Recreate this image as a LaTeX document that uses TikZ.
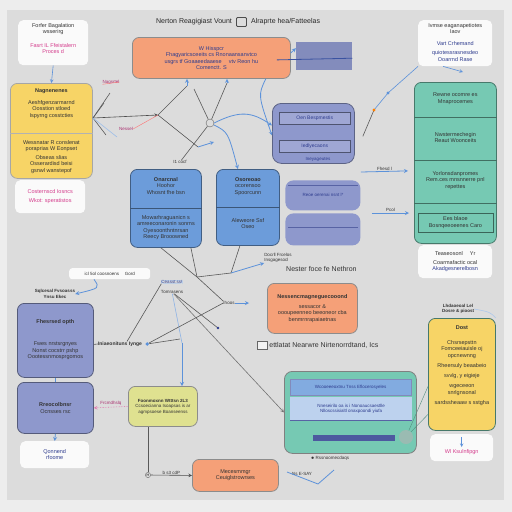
\documentclass[tikz,border=0pt]{standalone}
\usepackage{fontspec}
\setmainfont{Liberation Sans}
\usepackage{tikz}
\usetikzlibrary{shapes,arrows}
\usetikzlibrary{positioning}

\definecolor{outergray}{HTML}{EDEDED}
\definecolor{panelgray}{HTML}{DCDCDC}
\definecolor{boxyellow}{HTML}{F7D466}
\definecolor{boxorange}{HTML}{F5A078}
\definecolor{boxblue}{HTML}{6C9CDA}
\definecolor{boxpurple}{HTML}{8E98CC}
\definecolor{boxteal}{HTML}{76C9B3}
\definecolor{boxlime}{HTML}{DFE190}
\definecolor{linkblue}{HTML}{5C92DA}
\definecolor{inkpink}{HTML}{D43C8C}
\definecolor{inknavy}{HTML}{2E3C8E}

\tikzstyle{arrow} = [semithick,->,>=stealth]
\tikzstyle{bluearrow} = [thick,->,>=stealth,linkblue]
\tikzstyle{wire} = [semithick, black!65]
\tikzstyle{card} = [rectangle, rounded corners=7pt, anchor=north west, inner sep=0pt, line width=0.8pt]
\tikzstyle{note} = [rectangle, rounded corners=5pt, anchor=north west, inner sep=0pt, fill=white!96!gray]
\tikzstyle{bar} = [rectangle, anchor=north west, inner sep=0pt, draw=boxpurple!55!black,
    fill=boxpurple!85!white, font=\fontsize{5}{6}\selectfont, text=inknavy]
\tikzstyle{txt} = [inner sep=0pt, align=center, font=\fontsize{5.5}{6.5}\selectfont, text=black!80]
\tikzstyle{fine} = [inner sep=0pt, align=center, font=\fontsize{4.5}{5.5}\selectfont, text=black!80]
\tikzstyle{head} = [inner sep=0pt, font=\fontsize{7}{8}\selectfont, text=black!85]

\begin{document}
\begin{tikzpicture}[x=1pt, y=-1pt]
\useasboundingbox (0,0) rectangle (512,512);
\fill[outergray] (0,0) rectangle (512,512);
\fill[panelgray] (7,10) rectangle (504,500);

% title row
\node (title) [head] at (194,22) {Nerton Reagigiast Vount};
\node (titleicon) [draw=black!70, thick, rounded corners=1pt, minimum width=10, minimum height=9,
    inner sep=0pt, right=4pt of title] {};
\node (title2) [head, right=4pt of titleicon] {Alraprte hea/Fatteelas};

% left column
\node (factsheet) [note, minimum width=70, minimum height=45] at (18,20) {};
\node (factsheettxt) [txt, below=3pt of factsheet.north] {Forfer Bagalation\\ wsserirg\\[7pt]
    \textcolor{inkpink}{Fasrt IL Ffeistalern}\\ \textcolor{inkpink}{Proces d}};

\node (intake) [card, fill=boxyellow, draw=black!35, minimum width=82, minimum height=95] at (10,83) {};
\draw [black!30] ([yshift=-50pt]intake.north west) -- ([yshift=-50pt]intake.north east);
\node (intaketop) [txt, below=6pt of intake.north] {\textbf{Nagnenenes}\\[5pt] Aeshfgenzarmarnd\\
    Oosstion stloed\\ Ispyrng cosstcties};
\node (intakebot) [txt, below=57pt of intake.north] {Wessnatar R conslenat\\ poraprias W Eonpset\\[2pt]
    Obseas slias\\ Osserardisd beisi\\ gsnwl wanstepof};

\node (costnote) [note, minimum width=70, minimum height=33] at (15,180) {};
\node (costnotetxt) [txt, text=inkpink] at (costnote.center) {Costernscd Iosncs\\[3pt] Wkot: speratistos};

\draw [bluearrow, semithick] (factsheet.south) -- (intake.north);

% top centre
\node (scope) [card, fill=boxorange, draw=black!45, minimum width=158, minimum height=41] at (132,37) {};
\node (scopetxt) [txt, text=inknavy] at (scope.center) {W Hisspcr\\ Fhagyaricsceeits cs Rnonaansanvtco\\
    usgrs tf Goaaeedaaese \quad vtv Reon hu\\ Comenctt. S};
\node (slate) [rectangle, fill=boxpurple!92!black, minimum width=56, minimum height=28, inner sep=0pt,
    anchor=north west] at (296,42) {};
\draw [bluearrow] ([yshift=5pt]scope.east) -- ([yshift=8pt]slate.west);
\draw [inknavy!75!linkblue, thick] ([xshift=-14pt, yshift=-2pt]scope.east) -- ([yshift=-2pt]slate.east);

% top right
\node (legend) [note, minimum width=74, minimum height=46] at (418,20) {};
\node (legendtxt) [txt, below=3pt of legend.north] {Ivmse eaganapetiotes\\ Iaov\\[5pt]
    \textcolor{inknavy}{Vart Crhemand}\\[3pt] \textcolor{inknavy}{quiotessrasnesdeo}\\ \textcolor{inknavy}{Ooarrnd Rase}};

\node (stages) [card, fill=boxteal, draw=boxteal!60!black, minimum width=82, minimum height=161] at (414,82) {};
\foreach \cut in {35,78,121}
    \draw [boxteal!55!black] ([yshift=-\cut pt]stages.north west) -- ([yshift=-\cut pt]stages.north east);
\node (stagesA) [txt, below=11pt of stages.north] {Rewne ocomre es\\ Mnaprocemes};
\node (stagesB) [txt, below=50pt of stages.north] {Nwstermechegin\\ Reaut Woonceits};
\node (stagesC) [txt, below=89pt of stages.north] {Yorlonsdanpromes\\ Rem.ces mnsnnerre pnl\\ repettes};
\node (stagessub) [rectangle, draw=boxteal!50!black, minimum width=75, minimum height=19, anchor=north]
    at ([yshift=-131pt]stages.north) {};
\node (stagessubtxt) [txt] at (stagessub.center) {Ees blaoe\\ Bosnqeeoeenes Caro};

\node (summary) [note, minimum width=74, minimum height=33] at (418,245) {};
\node (summarytxt) [txt] at (summary.center) {Teaseosonl \quad Yr\\[2pt] Coarmafactic ocal\\
    \textcolor{inknavy}{Akadgesnerelbosn}};

% middle stacks
\node (queue) [card, fill=boxpurple, draw=boxpurple!65!black, rounded corners=9pt, minimum width=82,
    minimum height=60] at (272,103) {};
\node (queuebarA) [bar, minimum width=71, minimum height=12] at (279,112) {Oen Bespmestis};
\node (queuebarB) [bar, minimum width=71, minimum height=12] at (279,140) {Iedlyecaons};
\node (queuefoot) [fine, text=inknavy] at (318,159) {Ineyageutes};

\node (stackA) [card, fill=boxpurple, rounded corners=8pt, minimum width=75, minimum height=30] at (285,180) {};
\draw [inknavy!80, thick] ([xshift=3pt, yshift=-5pt]stackA.north west) -- ([xshift=-3pt, yshift=-5pt]stackA.north east);
\node (stackAtxt) [fine, text=inknavy] at ([yshift=-15pt]stackA.north) {Reoe oerenai nsnt l*};
\node (stackB) [card, fill=boxpurple, rounded corners=8pt, minimum width=75, minimum height=32] at (285,213) {};
\draw [inknavy!80, thick] ([xshift=3pt, yshift=-14pt]stackB.north west) -- ([xshift=-3pt, yshift=-14pt]stackB.north east);

% queue and stacks towards the right column
\coordinate (hopA) at (374,110);
\coordinate (hopB) at (388,93);
\coordinate (stagesgate) at (409,213);
\coordinate (legendtip) at (463,72);
\draw [wire] ([xshift=8pt, yshift=-3pt]queue.east) -- (hopA);
\draw [linkblue, semithick] (hopA) -- (hopB) -- (legend.south west);
\fill [orange] (hopA) circle (1.6);
\fill [linkblue] (hopB) circle (1.6);
\draw [bluearrow, semithick] ([xshift=-12pt]legend.south) -- (legendtip);
\draw [bluearrow] ([yshift=8pt]stackA.north east) -- node[above=1pt, fine] {Fhesd l} ([xshift=-6pt, yshift=-8pt]stages.west);
\draw [bluearrow] ([xshift=11pt]stackB.north east) -- node[above=1pt, fine] {Pcol} (stagesgate);

\node (sourceA) [card, fill=boxblue, draw=boxblue!60!black, minimum width=71, minimum height=78] at (130,169) {};
\draw [boxblue!55!black] ([yshift=-39pt]sourceA.north west) -- ([yshift=-39pt]sourceA.north east);
\node (sourceAtop) [txt, below=8pt of sourceA.north] {\textbf{Onarcnal}\\ Hoohor\\ Whosnt fhe bsn};
\node (sourceAbot) [txt, below=46pt of sourceA.north] {Mowarhraguanicn s\\ amreeconaronin sonrns\\
    Oyesoonthntnrsan\\ Reecy Brooowned};
\node (sourceB) [card, fill=boxblue, draw=boxblue!60!black, minimum width=63, minimum height=76] at (216,169) {};
\draw [boxblue!55!black] ([yshift=-38pt]sourceB.north west) -- ([yshift=-38pt]sourceB.north east);
\node (sourceBtop) [txt, below=8pt of sourceB.north] {\textbf{Osoreoao}\\ ocorensoo\\ Spoorcunn};
\node (sourceBbot) [txt, below=49pt of sourceB.north] {Aleweore Ssf\\ Oseo};

\node (relay) [circle, draw=black!60, fill=panelgray, minimum size=8, inner sep=0pt] at (210,123) {};
\node (relayq) [fine] at (180,162) {I1 cocf};
\node (tagA) [fine, text=inkpink!80!black] at (111,82) {Nagsrtel};
\node (tagB) [fine, text=inkpink!80!black] at (126,129) {Nessel};

\coordinate (fan) at (93,118);
\coordinate (fork) at (158,115);
\coordinate (fanA) at (110,93);
\coordinate (fanB) at (104,103);
\coordinate (fanC) at (106,135);
\coordinate (fanD) at (117,137);
\coordinate (riseA) at (187,86);
\coordinate (riseB) at (194,89);
\coordinate (dip) at (198,147);
\coordinate (dipend) at (214,142);
\coordinate (spur) at (227,83);

\draw [arrow, black!70] (fan) -- (fork);
\foreach \c in {fanA,fanB,fanC}
    \draw [wire] (fan) -- (\c);
\draw [linkblue!60, semithick] (fan) -- (fanD);
\draw [red!55] (tagA.south west) -- (tagA.east);
\draw [red!55] (tagB.east) -- (fork);
\draw [wire] (fork) -- (riseA);
\draw [bluearrow] (riseA) -- (scope.south -| riseA);
\draw [wire] (fork) -- (dip);
\draw [bluearrow] (dip) -- (dipend);
\draw [wire] (riseB) -- (relay);
\draw [wire] (relay) -- (relayq);
\draw [wire] (relay) -- (spur);
\draw [bluearrow] (spur) -- (scope.south -| spur);
\draw [bluearrow] (relay) .. controls (228,132) .. ([xshift=-10pt]sourceB.north);
\draw [bluearrow] (relay.east) .. controls (240,110) and (252,112) .. ([yshift=8pt]queue.west);
\draw [bluearrow] ([xshift=-25pt]scope.south east) .. controls (258,95) .. ([yshift=-2pt]queue.west);

% lower centre
\node (tipbox) [note, rounded corners=3pt, minimum width=81, minimum height=11] at (69,268) {};
\node (tipboxtxt) [fine] at (tipbox.center) {icl 5ol coosnoens \quad Gord};
\node (gloss) [fine, font=\fontsize{4.5}{5.5}\selectfont\bfseries] at (55,294) {Sqlcesal Fvsoasss\\ Ynsu Ekec};
\node (chip) [rectangle, rounded corners=3pt, draw=linkblue!50, inner sep=2pt, fine, text=inknavy] at (172,282) {Ceasst ss!};
\node (chipnote) [fine] at (172,292) {Tomrasens};
\node (pinlabel) [fine, align=left] at (278,258) {Docrll Frcelos\\ Insgagesocl};
\node (ihoos) [fine] at (229,303) {Ihoos};
\node (tagline) [fine, font=\fontsize{7}{8}\selectfont, anchor=west] at (286,269) {Nester foce fe Nethron};

\coordinate (knot) at (197,277);
\coordinate (joint) at (231,273);
\coordinate (tail) at (218,328);
\coordinate (drop) at (182,343);
\coordinate (ihoosend) at (249,303);

\draw [bluearrow] ([xshift=25pt]tipbox.south west) .. controls (100,288) .. (gloss.east);
\draw [wire] ([xshift=-5pt]sourceA.south) -- (knot);
\draw [wire] ([xshift=25pt]sourceA.south) -- (knot);
\draw [wire] ([xshift=-8pt]sourceB.south) -- (joint);
\draw [wire] (knot) -- (joint);
\draw [bluearrow] (joint) -- (pinlabel.south west);
\draw [wire] (knot) -- (ihoos.north west);
\draw [bluearrow] (ihoos.east) -- (ihoosend);
\draw [wire] (chipnote) -- (tail);
\fill [inknavy] (tail) circle (1.3);
\draw [linkblue!70, semithick] (chipnote) -- (drop);

\node (jobs) [card, fill=boxorange, draw=black!45, minimum width=90, minimum height=50] at (267,283) {};
\node (jobstxt) [txt] at (jobs.center) {\textbf{Nessencmagneguecooond}\\[3pt] sessacor \&\\
    oooupeenneo beeoneor cba\\ benmrnrapaiaetnas};

\node (bannericon) [draw=black!60, fill=white!90!gray, minimum width=10, minimum height=8, inner sep=0pt] at (262,345) {};
\node (banner) [fine, font=\fontsize{7}{8}\selectfont, right=2pt of bannericon] {ettlatat Nearwre Nirtenorrdtand, Ics};

\node (ledger) [card, fill=boxteal, draw=black!50, rounded corners=8pt, minimum width=132, minimum height=82] at (284,371) {};
\node (ledgerbar) [rectangle, anchor=north west, draw=inknavy!60, fill=boxblue!85!white, minimum width=121,
    minimum height=16, inner sep=0pt, fine, text=inknavy] at (290,379) {Wcooeeeoxtnu Tnss Eflocerosyeles};
\node (ledgerpane) [rectangle, anchor=north west, fill=boxblue!45!white, minimum width=122, minimum height=23,
    inner sep=0pt, fine, text=inknavy] at (290,397) {Nneseirilo oa is i Nonoaucsaestlle\\ Nlloscssisialtl onaxpoondi yiufa};
\draw [inknavy!80, thick] (ledgerpane.south west) -- (ledgerpane.south east);
\fill [inknavy!85] (313,435) rectangle (395,441);
\node (ledgerknob) [circle, fill=gray!60, opacity=0.6, minimum size=14, inner sep=0pt] at (406,437) {};
\node (ledgerfoot) [fine] at (330,458) {$\bullet$ Rssnoomecdaqs};
\node (ledgerfootB) [fine] at (302,474) {Ns E-SAY};
\coordinate (veeA) at (287,472);
\coordinate (veeB) at (318,484);
\coordinate (veeC) at (334,470);
\draw [linkblue, thick] (veeA) -- (veeB) -- (veeC);
\draw [arrow, black!55] (chipnote) -- (ledger.west);

% right lower
\node (checklisthead) [fine, font=\fontsize{4.5}{5.5}\selectfont\bfseries] at (458,309) {Lhdaoeoal Lel\\ Dosre \& pioost};
\node (checklist) [card, fill=boxyellow, draw=boxteal!60!black, minimum width=67, minimum height=112] at (428,318) {};
\node (checklisttxt) [txt, below=8pt of checklist.north] {\textbf{Dost}\\[8pt] Chsrsepsttn\\ Fomceeiauisle oj\\
    opcnewnng\\[4pt] Rheersuly beaabeio\\[3pt] svvlg, y eigieje\\[4pt] wgeceeon\\ snrlgnsonal\\[4pt] sardssheaaw s sstgha};
\draw [linkblue!50, semithick] (checklisthead.east) .. controls (490,312) .. (checklist.north east);
\draw [boxteal!70!black] (ledgerknob) -- ([yshift=-12pt]checklist.west);
\draw [boxteal!70!black] (ledgerknob) -- ([yshift=-40pt]checklist.west);

\node (closing) [note, minimum width=63, minimum height=27] at (430,434) {};
\node (closingtxt) [txt, text=inkpink, below=15pt of closing.north] {Wl Ksulnfipgn};
\draw [bluearrow, semithick] ([yshift=-3pt]closing.north) -- ([yshift=-13pt]closing.north);

% left lower
\node (pathA) [card, fill=boxpurple, draw=boxpurple!60!black, minimum width=76, minimum height=74] at (17,303) {};
\node (pathAtop) [txt, below=16pt of pathA.north] {\textbf{Fhesrsed opth}};
\node (pathAbot) [txt, below=39pt of pathA.north] {Fwes nrstsrgnyes\\ Nonst cocstrr pshp\\ Oootessnmosprgomos};
\node (pathB) [card, fill=boxpurple, draw=boxpurple!60!black, minimum width=76, minimum height=51] at (17,382) {};
\node (pathBtxt) [txt] at (pathB.center) {\textbf{Rreocolbnsr}\\ Ocnsses rsc};
\node (output) [note, minimum width=69, minimum height=27] at (20,441) {};
\node (outputtxt) [txt, text=inknavy] at (output.center) {Qonnend\\ rfoome};
\draw [linkblue, thick] (pathA.south) -- (pathB.north);
\draw [bluearrow] (pathB.south) -- (output.north);

\node (stamp) [fine, font=\fontsize{5}{6}\selectfont\bfseries] at (120,344) {Iniaeonituns Iynge};
\node (stampdot) [circle, fill=linkblue, inner sep=1.3pt, right=3pt of stamp] {};
\coordinate (stampend) at (180,339);
\draw [wire] ([yshift=-4pt]pathA.east) -- (stamp.west);
\draw [wire] (chip.south west) -- ([xshift=7pt]stamp.north);
\draw [wire] (stampdot) -- (stampend);
\draw [wire] (stampdot) -- (ihoos.west);

\node (check) [card, fill=boxlime, draw=black!45, minimum width=69, minimum height=40] at (128,386) {};
\node (checktxt) [fine] at (check.center) {\textbf{Foonmoxnn Wtttsn 2L3}\\ Ccsoecianna Isoapsas is ar\\ agmpsoese Boanseenss};
\draw [bluearrow] (drop) -- (check.north -| drop);
\draw [arrow, inkpink!70, densely dotted] (check.west) -- node[above=1pt, fine, text=inkpink!80!black] {Frcmdhslq} (pathB.east);

\node (review) [card, fill=boxorange, draw=black!45, minimum width=86, minimum height=32] at (192,459) {};
\node (reviewtxt) [txt] at (review.center) {Mecesmmgr\\ Ceuiglstrowrses};
\node (hop) [circle, draw=black!60, inner sep=0.6pt, font=\fontsize{3.5}{4}\selectfont] at (148,475) {H};
\draw [wire] (check.south -| hop.north) -- (hop.north);
\draw [arrow, black!70] (hop) -- node[above, fine] {b s3 cdP} (review.west);
\end{tikzpicture}
\end{document}
